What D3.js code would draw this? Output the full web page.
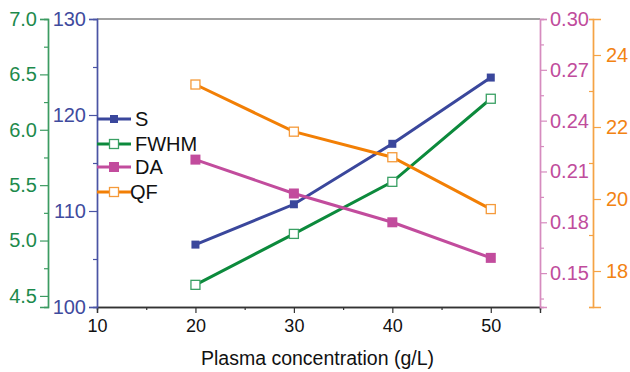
<!DOCTYPE html>
<html>
<head>
<meta charset="utf-8">
<script src="https://cdn.jsdelivr.net/npm/d3@7"></script>
<style>
  body { margin: 0; background: #fff; }
  svg text { font-family: "Liberation Sans", Arial, sans-serif; }
</style>
</head>
<body>
<div id="chart"></div>
<script>
// data
var conc = [20, 30, 40, 50];
var S = [106.5, 110.7, 117.0, 123.9];
var FWHM = [4.60, 5.06, 5.53, 6.28];
var DA = [0.217, 0.197, 0.180, 0.159];
var QF = [23.18, 21.87, 21.16, 19.72];

var xTicks = [10, 20, 30, 40, 50];
var sTicks = [100, 110, 120, 130];
var fTicks = [4.5, 5.0, 5.5, 6.0, 6.5, 7.0];
var dTicks = [0.15, 0.18, 0.21, 0.24, 0.27, 0.30];
var qTicks = [18, 20, 22, 24];

var W = 630, H = 372;
var pLeft = 97, pRight = 540, pTop = 19, pBottom = 307;

var svg = d3.select("#chart").append("svg")
    .attr("width", W).attr("height", H);

var x = d3.scaleLinear().domain([10, 55]).range([pLeft, pRight]);
var yS = d3.scaleLinear().domain([100, 130]).range([pBottom, pTop]);
var yF = d3.scaleLinear().domain([4.4, 7.0]).range([pBottom, pTop]);
var yD = d3.scaleLinear().domain([0.13, 0.30]).range([pBottom, pTop]);
var yQ = d3.scaleLinear().domain([17, 25]).range([pBottom, pTop]);

// top frame
svg.append("line")
    .attr("x1", pLeft).attr("x2", pRight).attr("y1", pTop).attr("y2", pTop)
    .attr("stroke", "#444").attr("stroke-width", 1.2);

function styleAxis(g, lineCol, textCol, size) {
    g.selectAll(".domain").attr("stroke", lineCol).attr("stroke-width", 1.4);
    g.selectAll(".tick line").attr("stroke", lineCol).attr("stroke-width", 1.2);
    g.selectAll(".tick text").attr("fill", textCol).style("font-size", size + "px")
        .style("font-family", "Liberation Sans, Arial, sans-serif");
}

// x axis
var gx = svg.append("g").attr("transform", "translate(0," + pBottom + ")");
gx.append("g").call(d3.axisBottom(x).tickValues(d3.range(15, 55, 10)).tickSize(3).tickFormat(""));
gx.append("g").call(d3.axisBottom(x).tickValues(xTicks).tickSize(6).tickPadding(6));
styleAxis(gx, "#333", "#111", 18);

svg.append("text")
    .attr("x", (pLeft + pRight) / 2 - 1).attr("y", 365)
    .attr("text-anchor", "middle").attr("fill", "#111")
    .style("font-size", "19.5px")
    .text("Plasma concentration (g/L)");

// S axis (blue, left)
var gs = svg.append("g").attr("transform", "translate(" + pLeft + ",0)");
gs.append("g").call(d3.axisLeft(yS).tickValues(d3.range(105, 130, 10)).tickSize(4).tickFormat(""));
gs.append("g").call(d3.axisLeft(yS).tickValues(sTicks).tickSize(8).tickPadding(3));
styleAxis(gs, "#4a54a4", "#3f4b9e", 20);

// FWHM axis (green, far left)
var gf = svg.append("g").attr("transform", "translate(48,0)");
gf.append("g").call(d3.axisLeft(yF).tickValues(d3.range(4.75, 7.0, 0.5)).tickSize(4).tickFormat(""));
gf.append("g").call(d3.axisLeft(yF).tickValues(fTicks).tickSize(8).tickPadding(3).tickFormat(d3.format(".1f")));
styleAxis(gf, "#3c9b62", "#1d8a4c", 20);

// DA axis (pink, right)
var gd = svg.append("g").attr("transform", "translate(" + pRight + ",0)");
gd.append("g").call(d3.axisRight(yD).tickValues(d3.range(0.135, 0.30, 0.03)).tickSize(4).tickFormat(""));
gd.append("g").call(d3.axisRight(yD).tickValues(dTicks).tickSize(7).tickPadding(3).tickFormat(d3.format(".2f")));
styleAxis(gd, "#d68bbf", "#c04c9c", 20);

// QF axis (orange, far right)
var gq = svg.append("g").attr("transform", "translate(593,0)");
gq.append("g").call(d3.axisLeft(yQ).tickValues(d3.range(17, 26, 2)).tickSize(4).tickFormat(""));
gq.append("g").call(d3.axisRight(yQ).tickValues(qTicks).tickSize(8).tickPadding(5));
styleAxis(gq, "#f5a345", "#f28312", 20);

var series = [
    { name: "S", vals: S, y: yS, col: "#3a479c", size: 8, hollow: false },
    { name: "FWHM", vals: FWHM, y: yF, col: "#0c8a3c", mk: "#3aa064", size: 9, hollow: true },
    { name: "DA", vals: DA, y: yD, col: "#c24c9d", size: 10, hollow: false },
    { name: "QF", vals: QF, y: yQ, col: "#f27f05", mk: "#f59a3a", size: 9, hollow: true }
];

series.forEach(function (s) {
    var line = d3.line()
        .x(function (d, i) { return x(conc[i]); })
        .y(function (d) { return s.y(d); });
    svg.append("path").datum(s.vals)
        .attr("d", line).attr("fill", "none")
        .attr("stroke", s.col).attr("stroke-width", 3);
    svg.selectAll(null).data(s.vals).enter().append("rect")
        .attr("x", function (d, i) { return x(conc[i]) - s.size / 2; })
        .attr("y", function (d) { return s.y(d) - s.size / 2; })
        .attr("width", s.size).attr("height", s.size)
        .attr("fill", s.hollow ? "#fff" : s.col)
        .attr("stroke", s.hollow ? s.mk : "none")
        .attr("stroke-width", 1.3);
});

// legend
var legY = [119, 144, 167, 192];
var legTx = [135, 135, 135, 130];
series.forEach(function (s, i) {
    var g = svg.append("g");
    g.append("line")
        .attr("x1", pLeft).attr("x2", 131).attr("y1", legY[i]).attr("y2", legY[i])
        .attr("stroke", s.col).attr("stroke-width", 3);
    g.append("rect")
        .attr("x", 114 - s.size / 2).attr("y", legY[i] - s.size / 2)
        .attr("width", s.size).attr("height", s.size)
        .attr("fill", s.hollow ? "#fff" : s.col)
        .attr("stroke", s.hollow ? s.mk : "none")
        .attr("stroke-width", 1.3);
    g.append("text")
        .attr("x", legTx[i]).attr("y", legY[i] + 7)
        .attr("fill", "#111").style("font-size", "20px")
        .text(s.name);
});
</script>
</body>
</html>
